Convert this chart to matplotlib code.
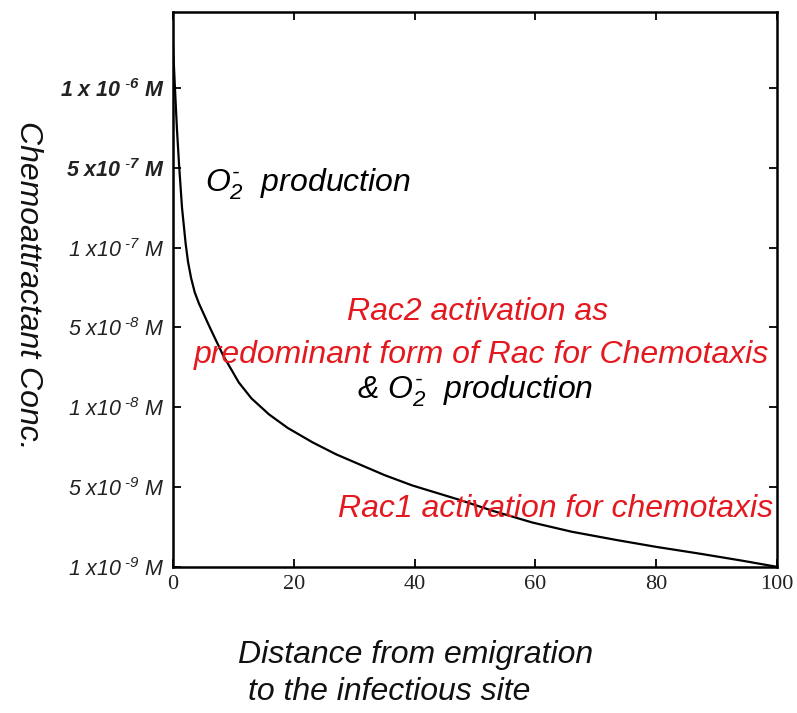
"""Chemoattractant concentration vs distance, with Rac activation regions."""

import matplotlib

matplotlib.use("Agg")
import matplotlib.pyplot as plt

# distance (0-100) and concentration; the y axis is an
# evenly spaced ladder of labels, so the curve is stored in ladder positions
distance = [0, 0.3, 0.65, 1.0, 1.5, 2.1, 2.5, 3.0, 3.6, 4.3, 6.1, 8.3, 10.9, 13.0, 15.9, 19.0, 23.1, 27.0,
            31.3, 35.0, 39.6, 47.4, 53.0, 59.5, 66.0, 73.5, 80.0, 87.2, 94.0, 100]
conc_pos = [6.55, 6.05, 5.5, 5.05, 4.5, 4.05, 3.82, 3.62, 3.44, 3.3, 3.0, 2.65, 2.31, 2.11, 1.91, 1.74,
            1.56, 1.41, 1.27, 1.15, 1.02, 0.84, 0.7, 0.555, 0.44, 0.335, 0.25, 0.165, 0.08, 0.0]

x_ticks = [0, 20, 40, 60, 80, 100]
y_ticks = [0, 1, 2, 3, 4, 5, 6]
y_labels = [
    r"$\mathrm{1\ x10^{\ \text{-}9}\ M}$",
    r"$\mathrm{5\ x10^{\ \text{-}9}\ M}$",
    r"$\mathrm{1\ x10^{\ \text{-}8}\ M}$",
    r"$\mathrm{5\ x10^{\ \text{-}8}\ M}$",
    r"$\mathrm{1\ x10^{\ \text{-}7}\ M}$",
    r"$\mathbf{5\ x10^{\ \text{-}7}\ M}$",
    r"$\mathbf{1\ x\ 10^{\ \text{-}6}\ M}$",
]

RED = "#e3191f"
O2 = r"$O_2^{\text{-}}$"

plt.rcParams["font.family"] = ["Liberation Sans", "DejaVu Sans"]
plt.rcParams["mathtext.fontset"] = "custom"
plt.rcParams["mathtext.rm"] = "Liberation Sans:italic"
plt.rcParams["mathtext.it"] = "Liberation Sans:italic"
plt.rcParams["mathtext.bf"] = "Liberation Sans:italic:bold"

fig = plt.figure(figsize=(7.97, 7.13), dpi=100)
ax = fig.add_axes([0.217, 0.205, 0.758, 0.778])

ax.plot(distance, conc_pos, color="black", lw=1.6, solid_joinstyle="round")

ax.set_xlim(0, 100)
ax.set_ylim(0, 6.95)
ax.set_xticks(x_ticks)
ax.set_xticklabels([str(t) for t in x_ticks], family="Liberation Serif", fontsize=16, color="#222222")
ax.set_yticks(y_ticks)
ax.set_yticklabels(y_labels, fontsize=15.5, color="#222222")
ax.tick_params(direction="in", top=True, right=True, length=6, width=1.3, pad=6)
for spine in ax.spines.values():
    spine.set_linewidth(1.8)

# region annotations
ax.text(5.3, 4.79, O2 + "  production", fontsize=23, style="italic", va="center", ha="left")
ax.text(50.5, 3.19, "Rac2 activation as", fontsize=23, style="italic", color=RED, ha="center", va="center")
ax.text(51, 2.66, "predominant form of Rac for Chemotaxis", fontsize=23, style="italic",
        color=RED, ha="center", va="center")
ax.text(50, 2.2, "& " + O2 + "  production", fontsize=23, style="italic", ha="center", va="center")
ax.text(99.3, 0.72, "Rac1 activation for chemotaxis", fontsize=23, style="italic",
        color=RED, ha="right", va="center")

fig.text(0.035, 0.6, "Chemoattractant Conc.", rotation=270, fontsize=23, style="italic",
         ha="center", va="center", color="#111111")
fig.text(0.298, 0.081, "Distance from emigration", fontsize=23, style="italic", ha="left", va="center",
         color="#111111")
fig.text(0.311, 0.029, "to the infectious site", fontsize=23, style="italic", ha="left", va="center",
         color="#111111")

fig.savefig("out.png", dpi=100)
plt.close(fig)
